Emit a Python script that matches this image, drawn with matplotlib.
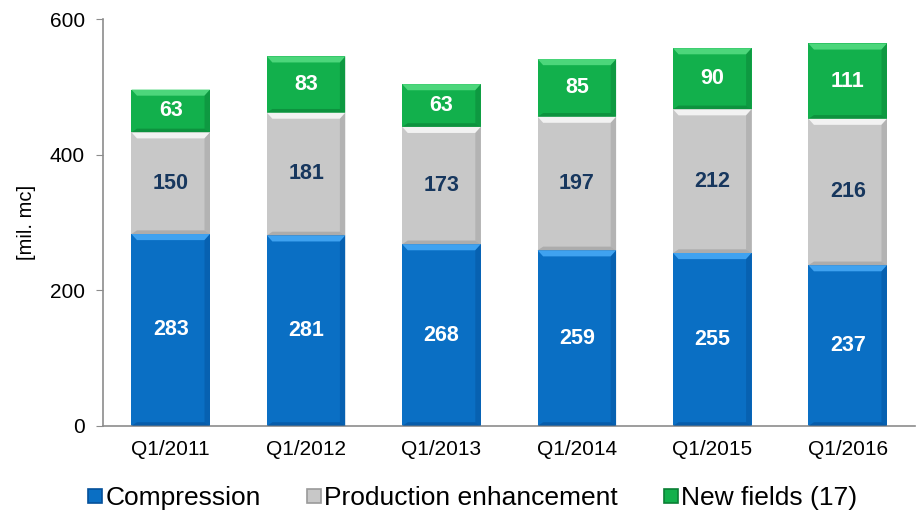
import numpy as np
import matplotlib.pyplot as plt
from matplotlib.patches import Polygon
from matplotlib.lines import Line2D

plt.rcParams["font.family"] = ["Liberation Sans", "DejaVu Sans"]

quarters = ["Q1/2011", "Q1/2012", "Q1/2013", "Q1/2014", "Q1/2015", "Q1/2016"]
compression = [283, 281, 268, 259, 255, 237]
enhancement = [150, 181, 173, 197, 212, 216]
new_fields = [63, 83, 63, 85, 90, 111]

series = [
    ("Compression", compression, "#0A6FC4", "#3FA2F0", "#05509A", "white"),
    ("Production enhancement", enhancement, "#C8C8C8", "#F2F2F2", "#9A9A9A", "#17375E"),
    ("New fields (17)", new_fields, "#12B04C", "#4CD67B", "#0A7F35", "white"),
]


def bevel(ax, x0, y0, w, h, top, dark):
    # light top facet and darker side/bottom facets to give a raised look
    dx = w * 0.07
    dy = min(h * 0.25, 9)
    ax.add_patch(Polygon([(x0, y0 + h), (x0 + w, y0 + h), (x0 + w - dx, y0 + h - dy),
                          (x0 + dx, y0 + h - dy)], closed=True, fc=top, ec="none", zorder=3))
    ax.add_patch(Polygon([(x0, y0), (x0 + w, y0), (x0 + w - dx, y0 + dy * 0.6),
                          (x0 + dx, y0 + dy * 0.6)], closed=True, fc=dark, ec="none",
                         alpha=0.6, zorder=3))
    ax.add_patch(Polygon([(x0 + w, y0), (x0 + w, y0 + h), (x0 + w - dx, y0 + h - dy),
                          (x0 + w - dx, y0 + dy * 0.6)], closed=True, fc=dark, ec="none",
                         alpha=0.45, zorder=3))


fig = plt.figure(figsize=(9.2, 5.15), dpi=100)
ax = fig.add_axes([0.112, 0.173, 0.883, 0.79])

x = np.arange(len(quarters))
width = 0.58
bottom = np.zeros(len(quarters))
for name, vals, color, top, dark, tcolor in series:
    vals = np.array(vals, dtype=float)
    ax.bar(x, vals, width, bottom=bottom, color=color, edgecolor="none", zorder=2)
    for i, v in enumerate(vals):
        bevel(ax, x[i] - width / 2, bottom[i], width, v, top, dark)
        ax.text(x[i], bottom[i] + v / 2, f"{int(v)}", ha="center", va="center",
                fontsize=15.5, fontweight="bold", color=tcolor, zorder=4)
    bottom += vals

ax.set_xlim(-0.5, len(quarters) - 0.5)
ax.set_ylim(0, 600)
ax.set_yticks([0, 200, 400, 600])
ax.set_xticks(x)
ax.set_xticklabels(quarters)
ax.tick_params(axis="both", labelsize=15, color="#8C8C8C", length=5)
ax.tick_params(axis="y", pad=8)
ax.tick_params(axis="x", length=0, pad=10)
ax.set_ylabel("[mil. mc]", fontsize=14.5, labelpad=10)
for side in ["top", "right"]:
    ax.spines[side].set_visible(False)
for side in ["left", "bottom"]:
    ax.spines[side].set_color("#8C8C8C")
    ax.spines[side].set_linewidth(1.2)

handles = [Line2D([], [], marker="s", linestyle="none", markersize=10,
                  markerfacecolor=s[2], markeredgecolor=s[4], markeredgewidth=1.2)
           for s in series]
fig.legend(handles, [s[0] for s in series], loc="center", bbox_to_anchor=(0.512, 0.033),
           ncol=3, frameon=False, fontsize=19, handletextpad=0.0, columnspacing=1.6,
           handlelength=0.8)

fig.savefig("out.png", dpi=100)
